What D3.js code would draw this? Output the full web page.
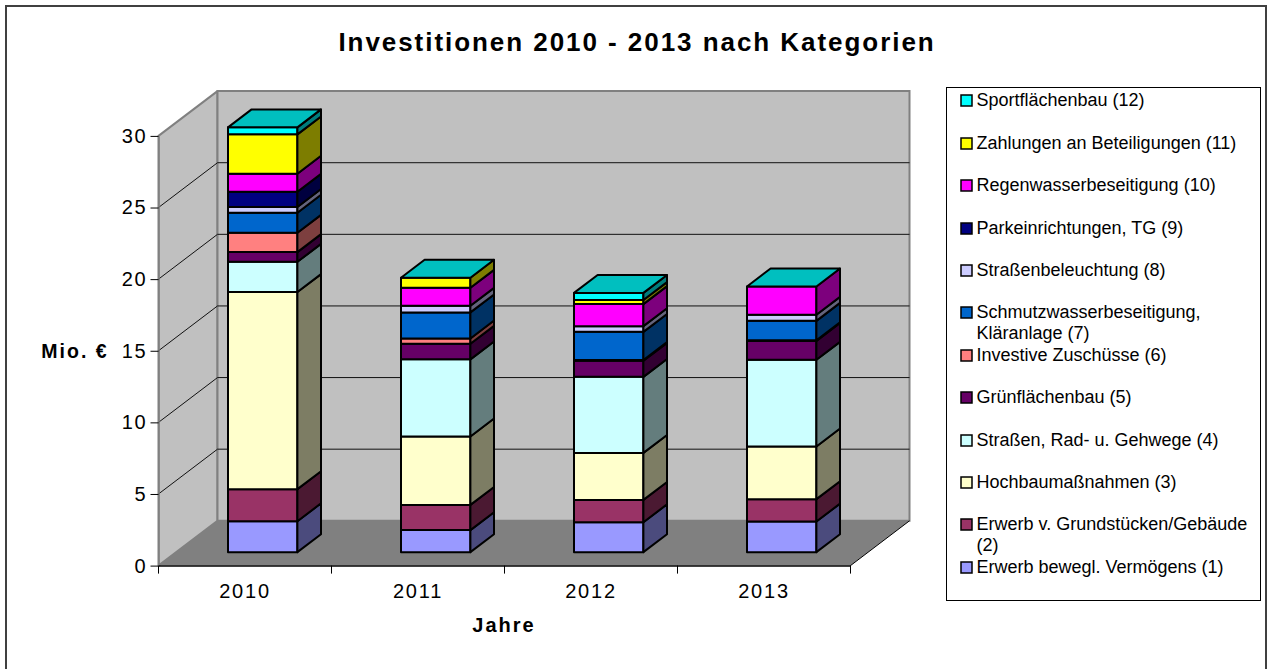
<!DOCTYPE html>
<html>
<head>
<meta charset="utf-8">
<title>Investitionen 2010 - 2013</title>
<script src="https://d3js.org/d3.v7.min.js"></script>
<style>
  html, body { margin: 0; padding: 0; background: #fff; }
  svg { display: block; }
  text { font-family: "Liberation Sans", Arial, sans-serif; fill: #000; }
</style>
</head>
<body>
<script>
var years = ["2010", "2011", "2012", "2013"];
var yTicks = [0, 5, 10, 15, 20, 25, 30];

// Reihenfolge von unten nach oben
var seriesNames = [
  ["Erwerb bewegl. Vermögens (1)"],
  ["Erwerb v. Grundstücken/Gebäude", "(2)"],
  ["Hochbaumaßnahmen (3)"],
  ["Straßen, Rad- u. Gehwege (4)"],
  ["Grünflächenbau (5)"],
  ["Investive Zuschüsse (6)"],
  ["Schmutzwasserbeseitigung,", "Kläranlage (7)"],
  ["Straßenbeleuchtung (8)"],
  ["Parkeinrichtungen, TG (9)"],
  ["Regenwasserbeseitigung (10)"],
  ["Zahlungen an Beteiligungen (11)"],
  ["Sportflächenbau (12)"]
];
var seriesColors = ["#9999ff", "#993366", "#ffffcc", "#ccffff", "#660066", "#ff8080",
                    "#0066cc", "#ccccff", "#000080", "#ff00ff", "#ffff00", "#00ffff"];

// Werte in Mio. Euro
var v2010 = [2.16, 2.24, 13.76, 2.11, 0.68, 1.35, 1.40, 0.40, 1.06, 1.26, 2.75, 0.49];
var v2011 = [1.54, 1.76, 4.78, 5.38, 1.09, 0.37, 1.82, 0.46, 0, 1.26, 0.70, 0];
var v2012 = [2.09, 1.56, 3.28, 5.31, 1.12, 0.05, 1.97, 0.40, 0, 1.54, 0.28, 0.50];
var v2013 = [2.14, 1.56, 3.68, 6.05, 1.32, 0.05, 1.35, 0.42, 0, 1.98, 0, 0];
var values = [v2010, v2011, v2012, v2013];

// y pro Legendeneintrag (von unten nach oben)
var legendRows = [567, 524, 482, 440, 397, 355, 312, 270, 228, 185, 143, 100];

var width = 1268, height = 669;
var svg = d3.select("body").append("svg").attr("width", width).attr("height", height);

// Rahmen, unten abgeschnitten wie im Original
svg.append("rect").attr("x", 6).attr("y", 6).attr("width", 1260).attr("height", 670)
   .attr("fill", "#fff").attr("stroke", "#404040").attr("stroke-width", 2);

svg.append("text").attr("x", 637).attr("y", 51)
   .attr("text-anchor", "middle").attr("font-size", 26).attr("font-weight", "bold")
   .attr("letter-spacing", 1.95)
   .text("Investitionen 2010 - 2013 nach Kategorien");

// Skalen: Vorderkante der Box, die Tiefe 0..1 verschiebt nach hinten
var x = d3.scaleBand().domain(years).range([158.5, 850.5]);
var y = d3.scaleLinear().domain([0, 30]).range([565.6, 135.9]);
var depthX = d3.scaleLinear().domain([0, 1]).range([0, 59]);
var depthY = d3.scaleLinear().domain([0, 1]).range([0, -44.8]);

function px(v, d) { return v + depthX(d); }
function py(v, d) { return y(v) + depthY(d); }
function poly(pts) { return pts.map(function(p){ return p.join(","); }).join(" "); }

var x0 = x.range()[0], x1 = x.range()[1];
var floorWall = svg.append("g");

// linke Wand, Rueckwand, Boden
floorWall.append("polygon").attr("fill", "#c0c0c0").attr("stroke", "#808080").attr("stroke-width", 2)
  .attr("stroke-linejoin", "round")
  .attr("points", poly([[x0, y(0)], [x0, y(30)], [px(x0,1), py(30,1)], [px(x0,1), py(0,1)]]));
floorWall.append("polygon").attr("fill", "#c0c0c0").attr("stroke", "#808080").attr("stroke-width", 2)
  .attr("points", poly([[px(x0,1), py(0,1)], [px(x0,1), py(30,1)], [px(x1,1), py(30,1)], [px(x1,1), py(0,1)]]));
floorWall.append("polygon").attr("fill", "#808080")
  .attr("points", poly([[x0, y(0)], [x1, y(0)], [px(x1,1), py(0,1)], [px(x0,1), py(0,1)]]));

// Gitterlinien
yTicks.filter(function(t){ return t > 0 && t < 30; }).forEach(function(t){
  floorWall.append("polyline").attr("fill", "none").attr("stroke", "#111").attr("stroke-width", 1)
    .attr("points", poly([[x0, y(t)], [px(x0,1), py(t,1)], [px(x1,1), py(t,1)]]));
});
floorWall.append("line").attr("x1", x1).attr("y1", y(0)).attr("x2", px(x1,1)).attr("y2", py(0,1))
  .attr("stroke", "#000");

// Achsen
var axisY = svg.append("g").attr("transform", "translate(" + x0 + ",0)")
  .call(d3.axisLeft(y).tickValues(yTicks).tickSize(8).tickSizeOuter(0).tickPadding(3));
var axisX = svg.append("g").attr("transform", "translate(0," + y(0) + ")")
  .call(d3.axisBottom(x).tickSize(0).tickPadding(18));
[axisY, axisX].forEach(function(a){
  a.selectAll("text").attr("font-family", "Liberation Sans").attr("font-size", 20).attr("letter-spacing", 1.8);
  a.select(".domain").attr("stroke", "#000").attr("stroke-width", 1.5);
});
axisY.select(".domain").attr("stroke", "#808080");
axisX.selectAll(".tk").data(d3.range(years.length + 1)).enter().append("line")
  .attr("x1", function(i){ return x0 + i * x.bandwidth(); })
  .attr("x2", function(i){ return x0 + i * x.bandwidth(); })
  .attr("y1", 0).attr("y2", 8).attr("stroke", "#000");

svg.append("text").attr("x", 75).attr("y", 358).attr("text-anchor", "middle")
  .attr("font-size", 19.5).attr("font-weight", "bold").attr("letter-spacing", 2).text("Mio. €");
svg.append("text").attr("x", 504).attr("y", 632).attr("text-anchor", "middle")
  .attr("font-size", 20).attr("font-weight", "bold").attr("letter-spacing", 2).text("Jahre");

// Saeulen
var barW = 69.4;
var barPad = (x.bandwidth() - barW) / 2;
var d0 = 0.3, d1 = 0.7;

years.forEach(function(yr, yi){
  var gBar = svg.append("g").attr("stroke", "#000").attr("stroke-width", 2).attr("stroke-linejoin", "round");
  var left = x(yr) + barPad, right = left + barW;
  var acc = 0;
  values[yi].forEach(function(val, si){
    if (val === 0) return;
    var lo = acc, hi = acc + val;
    acc = hi;
    gBar.append("polygon").attr("fill", seriesColors[si])
      .attr("points", poly([[px(left,d0), py(lo,d0)], [px(right,d0), py(lo,d0)], [px(right,d0), py(hi,d0)], [px(left,d0), py(hi,d0)]]));
    gBar.append("polygon").attr("fill", d3.rgb(seriesColors[si]).darker(2).formatHex())
      .attr("points", poly([[px(right,d0), py(lo,d0)], [px(right,d1), py(lo,d1)], [px(right,d1), py(hi,d1)], [px(right,d0), py(hi,d0)]]));
  });
  // Deckel immer in der Farbe von Reihe 12
  gBar.append("polygon").attr("fill", "#00bfbf")
    .attr("points", poly([[px(left,d0), py(acc,d0)], [px(right,d0), py(acc,d0)], [px(right,d1), py(acc,d1)], [px(left,d1), py(acc,d1)]]));
});

// Legende
var legend = svg.append("g");
legend.append("rect").attr("x", 946.5).attr("y", 87.5).attr("width", 314).attr("height", 513)
  .attr("fill", "#fff").attr("stroke", "#000");
seriesNames.forEach(function(lines, i){
  var ly = legendRows[i];
  legend.append("rect").attr("x", 961).attr("y", ly - 5).attr("width", 11).attr("height", 11)
    .attr("fill", seriesColors[i]).attr("stroke", "#000").attr("stroke-width", 1.5);
  lines.forEach(function(t, k){
    legend.append("text").attr("x", 976.5).attr("y", ly + 6 + k * 21).attr("font-size", 18).text(t);
  });
});
</script>
</body>
</html>
